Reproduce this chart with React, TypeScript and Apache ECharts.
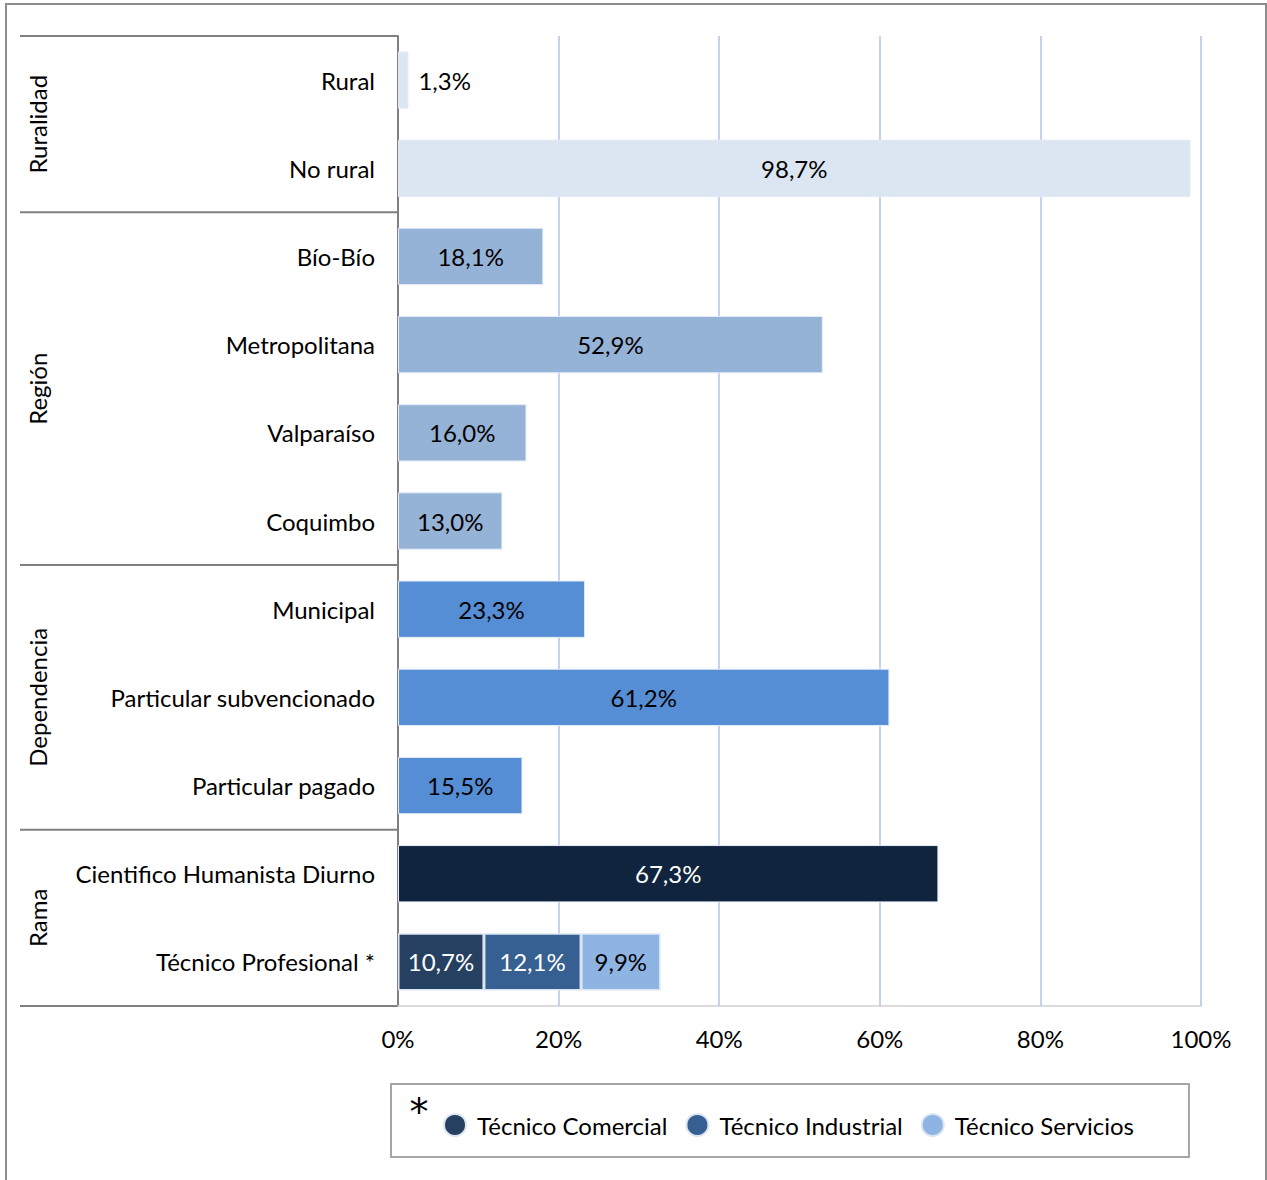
import React, { useEffect, useRef } from "react";
import * as echarts from "echarts";

const categories = [
  "Rural",
  "No rural",
  "Bío-Bío",
  "Metropolitana",
  "Valparaíso",
  "Coquimbo",
  "Municipal",
  "Particular subvencionado",
  "Particular pagado",
  "Cientifico Humanista Diurno",
  "Técnico Profesional *",
];
const mainValues: (number | null)[] = [1.3, 98.7, 18.1, 52.9, 16.0, 13.0, 23.3, 61.2, 15.5, 67.3, null];
const mainColors = [
  "#dce6f2", "#dce6f2",
  "#95b3d7", "#95b3d7", "#95b3d7", "#95b3d7",
  "#558ed5", "#558ed5", "#558ed5",
  "#10243e", "#10243e",
];
const mainLabelColors = ["#000", "#000", "#000", "#000", "#000", "#000", "#000", "#000", "#000", "#fff", "#fff"];

const tpNames = ["Técnico Comercial", "Técnico Industrial", "Técnico Servicios"];
const tpValues = [10.7, 12.1, 9.9];
const tpColors = ["#254061", "#366092", "#8eb4e3"];
const tpLabelColors = ["#fff", "#fff", "#000"];

const groups = [
  { name: "Ruralidad", from: 0, to: 1 },
  { name: "Región", from: 2, to: 5 },
  { name: "Dependencia", from: 6, to: 8 },
  { name: "Rama", from: 9, to: 10 },
];

const FONT = "Lato";
const FS = 24;
const fmt = (v: number) => v.toFixed(1).replace(".", ",") + "%";

export default function App() {
  const ref = useRef<HTMLDivElement>(null);
  useEffect(() => {
    if (!ref.current) return;
    const chart = echarts.init(ref.current, null, { renderer: "svg" });

    const mainData = mainValues.map((v, i) =>
      v == null
        ? "-"
        : {
            value: v,
            itemStyle: { color: mainColors[i] },
            label: {
              position: i === 0 ? "right" : "inside",
              distance: 10,
              color: mainLabelColors[i],
            },
          }
    );

    const series: any[] = [
      {
        name: "main",
        type: "bar",
        stack: "s",
        data: mainData,
        barCategoryGap: "35%",
        itemStyle: { borderColor: "#e4ecf7", borderWidth: 1 },
        label: {
          show: true,
          fontFamily: FONT,
          fontSize: FS,
          formatter: (p: any) => fmt(p.value),
        },
      },
      ...tpNames.map((name, k) => ({
        name,
        type: "bar",
        stack: "s",
        data: categories.map((_, i) => (i === categories.length - 1 ? tpValues[k] : "-")),
        itemStyle: { color: tpColors[k], borderColor: "#dce6f2", borderWidth: 1.5 },
        label: {
          show: true,
          position: "inside",
          fontFamily: FONT,
          fontSize: FS,
          color: tpLabelColors[k],
          formatter: (p: any) => fmt(p.value),
        },
      })),
    ];

    chart.setOption({
      animation: false,
      textStyle: { fontFamily: FONT },
      grid: { left: 398, right: 66, top: 36, bottom: 174, containLabel: false, outerBoundsMode: "none" } as any,
      xAxis: {
        type: "value",
        min: 0,
        max: 100,
        interval: 20,
        axisLine: { show: true, lineStyle: { color: "#cfcfcf", width: 1.5 } },
        axisTick: { show: false },
        axisLabel: {
          formatter: "{value}%",
          fontFamily: FONT,
          fontSize: FS,
          color: "#000",
          margin: 20,
        },
        splitLine: { show: true, lineStyle: { color: "#adc4ea", width: 1.5 } },
      },
      yAxis: {
        type: "category",
        inverse: true,
        data: categories,
        axisLine: { show: true, lineStyle: { color: "#808080", width: 2 } },
        axisTick: { show: false },
        axisLabel: { fontFamily: FONT, fontSize: FS, color: "#000", margin: 23 },
        splitLine: { show: false },
      },
      legend: {
        data: tpNames,
        left: 438,
        top: 1108,
        icon: "circle",
        itemWidth: 22,
        itemHeight: 22,
        itemGap: 18,
        textStyle: { fontFamily: FONT, fontSize: FS, color: "#000", padding: [8, 0, 0, 6] },
      },
      series,
    });

    // decorations computed from the axes
    const x0 = chart.convertToPixel({ xAxisIndex: 0 }, 0) as number;
    const c0 = chart.convertToPixel({ yAxisIndex: 0 }, categories[0]) as number;
    const c1 = chart.convertToPixel({ yAxisIndex: 0 }, categories[1]) as number;
    const band = c1 - c0;
    const boundary = (i: number) => c0 - band / 2 + i * band;
    const lineColor = "#808080";
    const graphics: any[] = [
      {
        type: "rect",
        shape: { x: 6, y: 4, width: 1260, height: 1190 },
        style: { fill: "none", stroke: "#8c8c8c", lineWidth: 2 },
        silent: true,
      },
      {
        type: "rect",
        shape: { x: 391, y: 1084, width: 798, height: 73 },
        style: { fill: "none", stroke: "#a6a6a6", lineWidth: 2 },
        silent: true,
      },
      {
        type: "text",
        x: 419,
        y: 1112,
        style: {
          text: "*",
          font: `38px "DejaVu Sans"`,
          fill: "#000",
          align: "center",
          verticalAlign: "middle",
        },
        silent: true,
      },
    ];
    const bounds = [0, 2, 6, 9, 11];
    bounds.forEach((b) => {
      const y = boundary(b);
      graphics.push({
        type: "line",
        shape: { x1: 20, y1: y, x2: x0, y2: y },
        style: { stroke: lineColor, lineWidth: 2 },
        silent: true,
      });
    });
    groups.forEach((g) => {
      const yc = (boundary(g.from) + boundary(g.to + 1)) / 2;
      graphics.push({
        type: "text",
        x: 37,
        y: yc,
        rotation: Math.PI / 2,
        style: {
          text: g.name,
          font: `${FS}px ${FONT}`,
          fill: "#000",
          align: "center",
          verticalAlign: "middle",
        },
        silent: true,
      });
    });
    chart.setOption({ graphic: graphics });

    return () => chart.dispose();
  }, []);

  return (
    <div
      ref={ref}
      style={{ position: "fixed", left: 0, top: 0, width: 1267, height: 1180, background: "#fff" }}
    />
  );
}
